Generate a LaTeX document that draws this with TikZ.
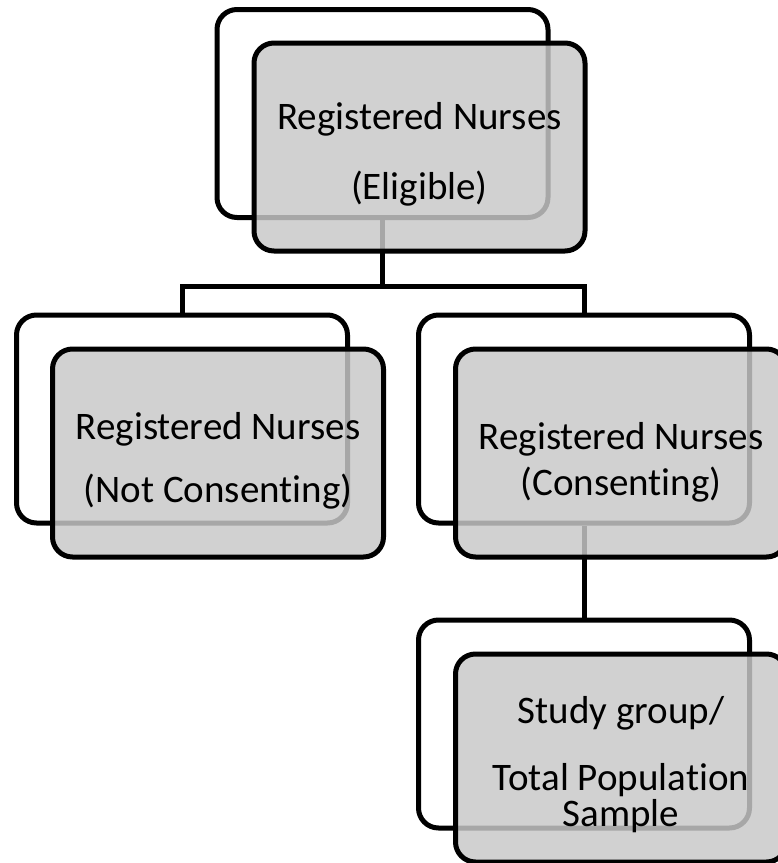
\documentclass[tikz,border=0pt]{standalone}
\usepackage{fontspec}
\setmainfont[Ligatures=NoCommon]{Carlito}
\definecolor{boxgray}{RGB}{200,200,200}
\tikzset{
  backbox/.style={draw, line width=5pt, rounded corners=20pt, minimum width=331pt, minimum height=208pt},
  frontbox/.style={draw, line width=5pt, rounded corners=20pt, minimum width=331pt, minimum height=208pt,
    fill=boxgray, fill opacity=0.84},
  boxtext/.style={align=center, font=\fontsize{39}{47}\selectfont},
  link/.style={line width=5pt}
}
\begin{document}
\begin{tikzpicture}[x=1pt, y=-1pt]
    \useasboundingbox (0,0) rectangle (778,863);

    % Back boxes
    \node[backbox] (eligback) at (382.5, 113.5) {};
    \node[backbox] (notback) at (182, 419) {};
    \node[backbox] (consback) at (584, 419) {};
    \node[backbox] (studyback) at (584, 724) {};

    % Connectors
    \draw[link] (eligback.south) -- ++(0,66) coordinate (split);
    \draw[link] (split) -| (notback.north);
    \draw[link] (split) -| (consback.north);
    \draw[link] (consback.south) -- (studyback.north);

    % Front boxes
    \node[frontbox] (elig) at (419.5, 147) {};
    \node[frontbox] (not) at (218, 453) {};
    \node[frontbox] (cons) at (621, 453) {};
    \node[frontbox] (study) at (621, 758) {};

    % Labels
    \node[boxtext] (eligtext) at ([yshift=-7pt]elig.center) {Registered Nurses\\[23pt](Eligible)};
    \node[boxtext] (nottext) at ([yshift=-8pt]not.center) {Registered Nurses\\[16pt](Not Consenting)};
    \node[boxtext] (constext) at ([yshift=-9pt]cons.center) {Registered Nurses\\[-1pt](Consenting)};
    \node[boxtext] (studytext) at ([yshift=-7pt]study.center) {Study group/\\[20pt]Total Population\\[-11pt]Sample};
\end{tikzpicture}
\end{document}
